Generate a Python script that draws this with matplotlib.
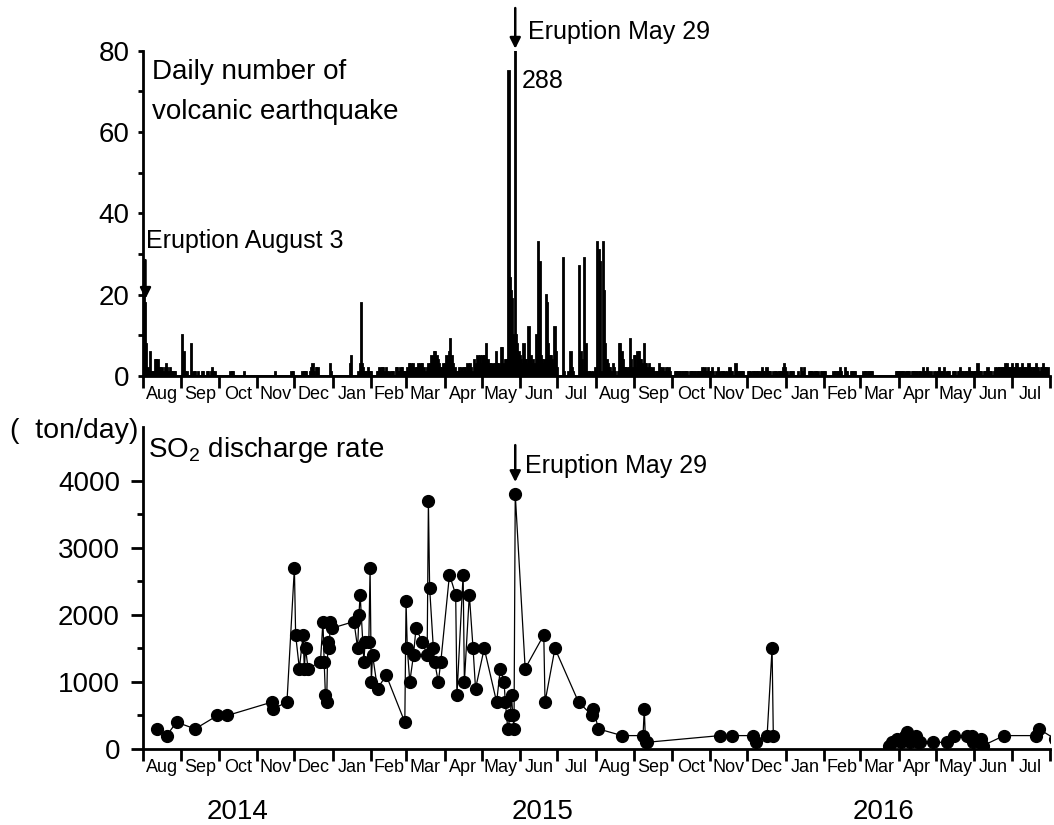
import numpy as np
import pandas as pd
import matplotlib
matplotlib.use('Agg')
import matplotlib.pyplot as plt

plt.rcParams['font.family'] = ['Liberation Sans', 'DejaVu Sans']
plt.rcParams['mathtext.fontset'] = 'custom'
plt.rcParams['mathtext.rm'] = 'Liberation Sans'
plt.rcParams['mathtext.it'] = 'Liberation Sans:italic'

# Daily number of volcanic earthquakes, one list per month (Aug 2014 - Jul 2016)
aug14 = [18, 28, 18, 8, 2, 1, 6, 1, 1, 1, 4, 4, 4, 2, 2, 1, 2, 1, 2, 3, 2, 1, 2, 1, 1, 1, 1, 0, 0, 0, 0]
sep14 = [0, 10, 6, 1, 0, 1, 0, 0, 8, 0, 1, 1, 0, 0, 1, 0, 0, 1, 1, 0, 0, 1, 1, 0, 1, 2, 1, 1, 0, 0]
oct14 = [0, 0, 0, 0, 0, 0, 0, 0, 0, 0, 1, 1, 1, 0, 0, 0, 0, 0, 0, 0, 0, 1, 0, 0, 0, 0, 0, 0, 0, 0, 0]
nov14 = [0, 0, 0, 0, 0, 0, 0, 0, 0, 0, 0, 0, 0, 0, 0, 1, 0, 0, 0, 0, 0, 0, 0, 0, 0, 0, 0, 0, 1, 1]
dec14 = [0, 0, 0, 0, 0, 0, 0, 1, 1, 1, 1, 0, 0, 1, 2, 3, 1, 0, 2, 2, 0, 0, 0, 0, 0, 0, 0, 0, 0, 3, 1]
jan15 = [0, 0, 0, 0, 0, 0, 0, 0, 0, 0, 0, 0, 0, 0, 3, 5, 0, 0, 0, 0, 0, 1, 3, 18, 3, 2, 1, 1, 0, 2, 1]
feb15 = [1, 0, 0, 0, 0, 1, 1, 2, 1, 2, 2, 1, 2, 1, 0, 1, 0, 1, 1, 0, 2, 2, 1, 1, 2, 2, 1, 1]
mar15 = [1, 2, 1, 3, 3, 2, 3, 1, 2, 2, 3, 2, 3, 3, 1, 2, 1, 2, 3, 2, 3, 5, 4, 6, 6, 5, 4, 3, 2, 2, 3]
apr15 = [2, 3, 5, 4, 6, 9, 5, 3, 1, 2, 1, 1, 2, 1, 2, 1, 2, 2, 1, 3, 2, 3, 2, 1, 4, 2, 3, 5, 3, 5]
may15 = [3, 5, 5, 4, 8, 4, 3, 3, 2, 3, 2, 3, 6, 3, 3, 2, 7, 7, 3, 4, 4, 4, 75, 24, 21, 19, 10, 288, 10, 8, 6]
jun15 = [5, 4, 3, 8, 4, 4, 3, 12, 4, 5, 3, 4, 3, 10, 5, 33, 28, 5, 4, 3, 4, 20, 18, 8, 5, 5, 4, 3, 12, 6]
jul15 = [2, 0, 0, 0, 0, 29, 1, 0, 0, 1, 0, 6, 2, 1, 0, 0, 0, 0, 27, 6, 4, 1, 29, 8, 1, 0, 1, 1, 0, 1, 0]
aug15 = [2, 33, 0, 31, 28, 1, 33, 21, 8, 4, 3, 2, 2, 1, 3, 2, 1, 0, 1, 8, 8, 6, 4, 2, 2, 2, 1, 2, 9, 4, 2]
sep15 = [5, 5, 2, 6, 6, 4, 4, 3, 8, 3, 3, 2, 3, 2, 1, 2, 1, 0, 1, 1, 3, 2, 1, 2, 1, 1, 2, 1, 2, 1]
oct15 = [0, 0, 0, 1, 1, 1, 1, 1, 0, 1, 1, 1, 1, 1, 0, 1, 1, 1, 1, 1, 0, 1, 1, 1, 1, 2, 1, 2, 1, 1, 2]
nov15 = [1, 1, 2, 1, 0, 1, 0, 2, 1, 0, 1, 1, 1, 0, 1, 0, 2, 1, 1, 0, 0, 3, 1, 0, 1, 1, 1, 1, 0, 0]
dec15 = [0, 1, 1, 1, 0, 1, 1, 1, 1, 1, 0, 1, 2, 1, 1, 0, 2, 1, 1, 1, 0, 1, 0, 1, 1, 0, 1, 1, 1, 2, 3]
jan16 = [2, 1, 0, 0, 1, 1, 1, 0, 0, 0, 1, 0, 0, 2, 1, 2, 0, 0, 0, 1, 1, 1, 1, 0, 1, 1, 1, 0, 0, 1, 1]
feb16 = [1, 1, 0, 0, 0, 0, 0, 0, 1, 1, 0, 1, 1, 2, 1, 0, 0, 2, 1, 1, 0, 0, 1, 1, 1, 1, 0, 0, 0]
mar16 = [0, 0, 0, 1, 1, 1, 0, 1, 1, 1, 1, 0, 0, 0, 0, 0, 0, 0, 0, 0, 0, 0, 0, 0, 0, 0, 0, 0, 0, 1, 1]
apr16 = [1, 1, 1, 1, 1, 0, 1, 1, 1, 1, 0, 1, 1, 1, 1, 1, 0, 1, 1, 0, 2, 1, 1, 2, 1, 0, 1, 0, 0, 1]
may16 = [0, 1, 1, 2, 1, 1, 1, 2, 0, 1, 1, 1, 0, 0, 1, 1, 1, 0, 1, 1, 2, 1, 1, 0, 1, 1, 1, 2, 1, 1, 1]
jun16 = [1, 1, 1, 3, 1, 1, 1, 0, 1, 1, 1, 2, 1, 1, 1, 0, 1, 2, 1, 2, 2, 1, 2, 2, 2, 3, 2, 3, 2, 2]
jul16 = [2, 3, 2, 2, 3, 3, 2, 1, 2, 3, 2, 2, 1, 2, 3, 2, 2, 1, 2, 2, 3, 2, 2, 1, 2, 2, 3, 2, 2, 1, 2]

daily_counts = (aug14 + sep14 + oct14 + nov14 + dec14 + jan15 + feb15 + mar15 + apr15
                + may15 + jun15 + jul15 + aug15 + sep15 + oct15 + nov15 + dec15 + jan16
                + feb16 + mar16 + apr16 + may16 + jun16 + jul16)
day_dates = pd.date_range('2014-08-01', periods=len(daily_counts), freq='D')

# SO2 discharge rate (ton/day); NaN marks the gap in the line
so2_dates = [
    '2014-08-12', '2014-08-20', '2014-08-28', '2014-09-12', '2014-09-30', '2014-10-08',
    '2014-11-13', '2014-11-14', '2014-11-25', '2014-12-01', '2014-12-02', '2014-12-05',
    '2014-12-08', '2014-12-09', '2014-12-10', '2014-12-12', '2014-12-22', '2014-12-24',
    '2014-12-25', '2014-12-26', '2014-12-27', '2014-12-28', '2014-12-29', '2014-12-30',
    '2014-12-31', '2015-01-18', '2015-01-21', '2015-01-22', '2015-01-23', '2015-01-26',
    '2015-01-27', '2015-01-30', '2015-01-31', '2015-02-01', '2015-02-02', '2015-02-06',
    '2015-02-13', '2015-02-28', '2015-03-01', '2015-03-02', '2015-03-04', '2015-03-07',
    '2015-03-09', '2015-03-14', '2015-03-18', '2015-03-19', '2015-03-20', '2015-03-23',
    '2015-03-24', '2015-03-27', '2015-03-29', '2015-04-05', '2015-04-10', '2015-04-11',
    '2015-04-16', '2015-04-17', '2015-04-21', '2015-04-24', '2015-04-26', '2015-05-03',
    '2015-05-13', '2015-05-16', '2015-05-19', '2015-05-20', '2015-05-22', '2015-05-24',
    '2015-05-25', '2015-05-26', '2015-05-27', '2015-05-28', '2015-06-05', '2015-06-20',
    '2015-06-21', '2015-06-29', '2015-07-18', '2015-07-29', '2015-07-30', '2015-08-03',
    '2015-08-22', '2015-09-08', '2015-09-09', '2015-09-10', '2015-09-11', '2015-11-09',
    '2015-11-19', '2015-12-06', '2015-12-08', '2015-12-17', '2015-12-21', '2015-12-22',
    '2016-02-01', '2016-03-24', '2016-03-27', '2016-03-31', '2016-04-03', '2016-04-06',
    '2016-04-08', '2016-04-10', '2016-04-12', '2016-04-15', '2016-04-17', '2016-04-18',
    '2016-04-29', '2016-05-10', '2016-05-16', '2016-05-26', '2016-05-30', '2016-05-31',
    '2016-06-06', '2016-06-08', '2016-06-25', '2016-07-21', '2016-07-23', '2016-08-05',
]
so2_values = [
    300, 200, 400, 300, 500, 500,
    700, 600, 700, 2700, 1700, 1200,
    1700, 1200, 1500, 1200, 1300, 1900,
    1300, 800, 700, 1600, 1500, 1900,
    1800, 1900, 1500, 2000, 2300, 1300,
    1600, 1600, 2700, 1000, 1400, 900,
    1100, 400, 2200, 1500, 1000, 1400,
    1800, 1600, 1400, 3700, 2400, 1500,
    1300, 1000, 1300, 2600, 2300, 800,
    2600, 1000, 2300, 1500, 900, 1500,
    700, 1200, 1000, 700, 300, 500,
    800, 500, 300, 3800, 1200, 1700,
    700, 1500, 700, 500, 600, 300,
    200, 200, 600, 100, 100, 200,
    200, 200, 100, 200, 1500, 200,
    np.nan, 50, 100, 150, 100, 200,
    250, 100, 150, 200, 100, 100,
    100, 100, 200, 200, 200, 100,
    150, 50, 200, 200, 300, 150,
]

month_labels = ['Aug', 'Sep', 'Oct', 'Nov', 'Dec', 'Jan', 'Feb', 'Mar', 'Apr', 'May', 'Jun', 'Jul'] * 2
year_labels = ['2014', '2015', '2016']
year_pos = ['2014-10-16', '2015-06-19', '2016-03-20']
eruption_1 = pd.Timestamp('2014-08-03')
eruption_2 = pd.Timestamp('2015-05-28')

month_starts = pd.date_range('2014-08-01', '2016-08-01', freq='MS')
month_mids = month_starts[:-1] + (month_starts[1:] - month_starts[:-1]) / 2

fig = plt.figure(figsize=(10.54, 8.25), dpi=100)
ax1 = fig.add_axes([0.1357, 0.5442, 0.8605, 0.3943])
ax2 = fig.add_axes([0.1357, 0.0921, 0.8605, 0.3903])

# top: daily earthquakes
ax1.bar(day_dates, daily_counts, width=1.0, color='black', edgecolor='black', linewidth=1.3)
ax1.set_ylim(0, 80)
ax1.set_yticks([0, 20, 40, 60, 80])
ax1.set_yticks([10, 30, 50, 70], minor=True)

# bottom: SO2
ax2.plot(pd.to_datetime(so2_dates), so2_values, color='black', lw=0.9,
         marker='o', markersize=8.5)
ax2.set_ylim(0, 4800)
ax2.set_yticks([0, 1000, 2000, 3000, 4000])
ax2.set_yticks([500, 1500, 2500, 3500], minor=True)

for ax in (ax1, ax2):
    ax.set_xlim(month_starts[0], month_starts[-1])
    ax.set_xticks(month_starts)
    ax.set_xticklabels([])
    ax.set_xticks(month_mids, minor=True)
    ax.set_xticklabels(month_labels, minor=True)
    ax.tick_params(axis='x', which='major', direction='out', length=8.5, width=2)
    ax.tick_params(axis='x', which='minor', length=0, pad=7, labelsize=13)
    ax.tick_params(axis='y', which='both', direction='out', width=2, labelsize=20)
    for s in ('top', 'right'):
        ax.spines[s].set_visible(False)
    for s in ('left', 'bottom'):
        ax.spines[s].set_linewidth(2)

ax1.tick_params(axis='y', which='major', length=3.5, pad=6)
ax1.tick_params(axis='y', which='minor', length=3.5)
ax2.tick_params(axis='y', which='major', length=8.6, pad=8)
ax2.tick_params(axis='y', which='minor', length=4.3)

arrow = dict(arrowstyle='-|>', color='black', lw=1.8, mutation_scale=16, shrinkA=0, shrinkB=0)

ax1.text(0.01, 0.913, 'Daily number of', transform=ax1.transAxes,
         fontsize=20, va='baseline', ha='left')
ax1.text(0.01, 0.790, 'volcanic earthquake', transform=ax1.transAxes,
         fontsize=20, va='baseline', ha='left')
ax1.text(0.003, 0.3935, 'Eruption August 3', transform=ax1.transAxes,
         fontsize=18, va='baseline', ha='left')
ax1.annotate('', xy=(eruption_1, 19), xytext=(eruption_1, 28.5),
             arrowprops=arrow, annotation_clip=False)
ax1.annotate('', xy=(eruption_2, 80.5), xytext=(eruption_2, 90.5),
             arrowprops=arrow, annotation_clip=False)
ax1.text(eruption_2 + pd.Timedelta(days=10), 82.8, 'Eruption May 29',
         fontsize=18, va='baseline', ha='left')
ax1.text(eruption_2 + pd.Timedelta(days=5), 70.8, '288', fontsize=18, va='baseline', ha='left')

ax2.annotate('', xy=(eruption_2, 3980), xytext=(eruption_2, 4530),
             arrowprops=arrow, annotation_clip=False)
ax2.text(eruption_2 + pd.Timedelta(days=8), 4110, 'Eruption May 29',
         fontsize=18, va='baseline', ha='left')

fig.text(0.0095, 0.4695, '(  ton/day)', fontsize=20.5, va='baseline', ha='left')
fig.text(0.1404, 0.446, 'SO$_2$ discharge rate', fontsize=20, va='baseline', ha='left')

for lab, pos in zip(year_labels, year_pos):
    ax2.text(pd.Timestamp(pos), -0.196, lab, transform=ax2.get_xaxis_transform(),
             fontsize=20, ha='center', va='center')

fig.savefig('out.png', dpi=100)
